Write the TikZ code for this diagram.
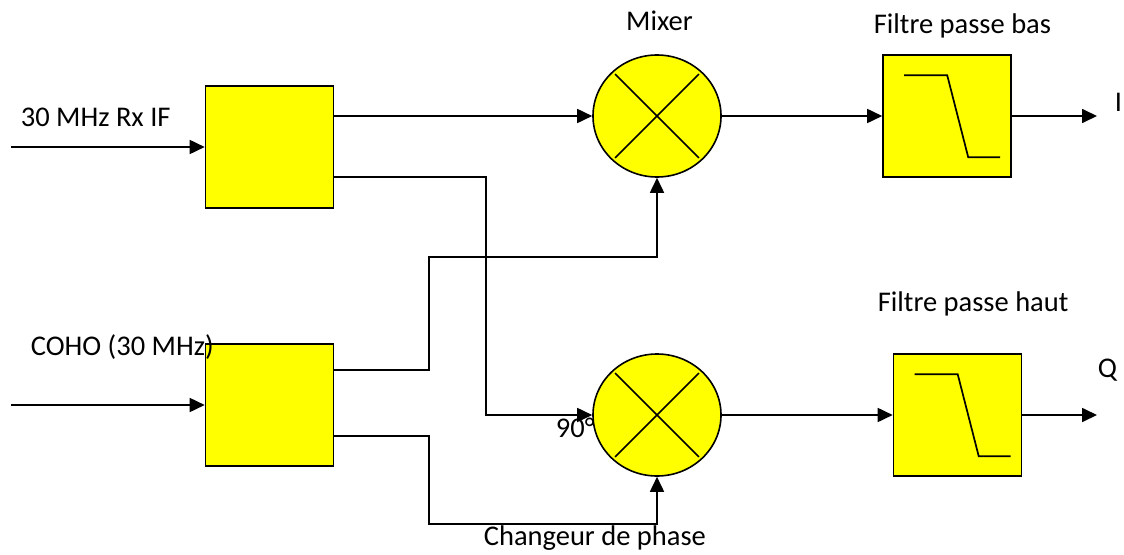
\documentclass[tikz,border=0pt]{standalone}
\usepackage{fontspec}
\setmainfont{Carlito}
\definecolor{boxyellow}{RGB}{255,255,0}
\tikzstyle{block}=[rectangle,draw=black,fill=boxyellow,line width=1.6pt,
minimum width=128pt,minimum height=122pt,inner sep=0pt]
\tikzstyle{mixer}=[ellipse,draw=black,fill=boxyellow,line width=1.6pt,
minimum width=128pt,minimum height=122pt,inner sep=0pt]
\tikzstyle{lbl}=[inner sep=0pt,anchor=base west,font=\fontsize{28.5}{34}\selectfont]
\usetikzlibrary{arrows.meta,positioning,calc,shapes.geometric}

\begin{document}
\begin{tikzpicture}[x=1pt,y=-1pt,line width=1.7pt,>={Triangle[length=15pt,width=14pt]}]
            \useasboundingbox (0,0) rectangle (1124,554);

            % INPUT PART

            \node[block] (b1) at (269.5,147) {};
            \node[block] (b2) at (269.5,405) {};
            \coordinate (in1) at (11,147);
            \coordinate (in2) at (11,405);

            \path[->] (in1) edge node {} (b1);
            \path[->] (in2) edge node {} (b2);

            % MIXER PART

            \node[mixer] (m1) at (657,116) {};
            \node[mixer] (m2) at (657,415) {};
            \foreach \m in {m1,m2} {
              \draw[shorten <=4pt,shorten >=4pt] (\m.135) -- (\m.-45);
              \draw[shorten <=4pt,shorten >=4pt] (\m.45) -- (\m.-135);
            }

            % FILTER PART

            \node[block] (f1) at (947,116) {};
            \node[block] (f2) at (957.5,415) {};
            \foreach \f in {f1,f2}
              \draw ($(\f.north west)+(22,21)$) -- ++(43,0) -- ++(21,82) -- ++(32,0);
            \coordinate (o1) at (1097,116);
            \coordinate (o2) at (1097,415);

            \path[->] (m1) edge node {} (f1);
            \path[->] (m2) edge node {} (f2);
            \path[->] (f1) edge node {} (o1);
            \path[->] (f2) edge node {} (o2);

            % Connections

            \path[->] (b1.east |- m1) edge node {} (m1);
            \draw[->] ($(b1.east)+(0,30)$) -- ++(152,0) |- (m2);
            \draw[->] ($(b2.east)+(0,-35)$) -- ++(95,0) |- ($(m1.south)+(0,79)$) -- (m1.south);
            \draw[->] ($(b2.east)+(0,31)$) -- ++(95,0) |- ($(m2.south)+(0,47)$) -- (m2.south);

            % Labels

            \node[lbl] (l1) at (20,126) {30 MHz Rx IF};
            \node[lbl] (l2) at (30,355) {COHO (30 MHz)};
            \node[lbl,anchor=base] (l3) at (659.5,30) {Mixer};
            \node[lbl] (l4) at (873,33) {Filtre passe bas};
            \node[lbl] (l5) at (877,311) {Filtre passe haut};
            \node[lbl] (l6) at (1114,111) {I};
            \node[lbl] (l7) at (1097,377) {Q};
            \node[lbl] (l8) at (555,437) {90°};
            \node[lbl] (l9) at (483,545) {Changeur de phase};

        \end{tikzpicture}
\end{document}
